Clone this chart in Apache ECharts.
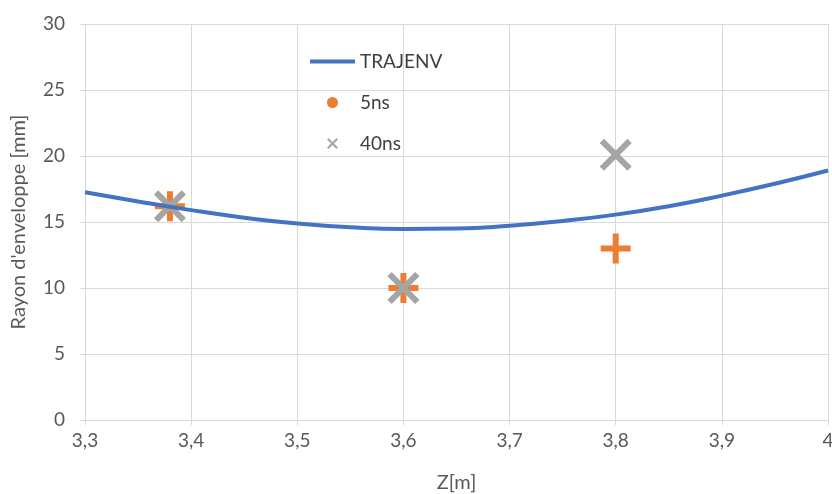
<!DOCTYPE html>
<html><head><meta charset="utf-8">
<script src="https://cdn.jsdelivr.net/npm/echarts@6/dist/echarts.min.js"></script>
<style>html,body{margin:0;padding:0;background:#fff}#c{width:832px;height:494px}</style>
</head><body><div id="c"></div>
<script>
const trajX = [3.30,3.35,3.40,3.45,3.50,3.55,3.60,3.65,3.70,3.75,3.80,3.85,3.90,3.95,4.00];
const trajY = [17.25,16.55,15.9,15.33,14.88,14.6,14.47,14.5,14.72,15.08,15.56,16.2,17.0,17.9,18.9];
const ptsX = [3.38,3.60,3.80];
const ns5Y = [16.2,10.0,13.0];
const ns40Y = [16.2,10.0,20.1];
const names = ['TRAJENV','5ns','40ns'];

const plusPath = 'path://M12,0 H18 V12 H30 V18 H18 V30 H12 V18 H0 V12 H12 Z';
const xPath = 'path://M0,4 L4,0 L15,11 L26,0 L30,4 L19,15 L30,26 L26,30 L15,19 L4,30 L0,26 L11,15 Z';
const linePath = 'path://M0,0 H45 V4 H0 Z';
const font = 'Lato, "Open Sans", sans-serif';
const grey = '#595959';

const chart = echarts.init(document.getElementById('c'));
chart.setOption({
  animation:false,
  grid:{left:85,right:4,top:24,bottom:74,outerBoundsMode:'none',containLabel:false},
  legend:{
    orient:'vertical', left:305, top:47, itemWidth:45, itemHeight:11, itemGap:22,
    textStyle:{color:'#404040',fontFamily:font,fontSize:19},
    data:[{name:names[0],icon:linePath},{name:names[1],icon:'circle'},{name:names[2],icon:xPath}]
  },
  xAxis:{type:'value',min:3.3,max:4.0,interval:0.1,
    name:'Z[m]',nameLocation:'middle',nameGap:53,
    nameTextStyle:{color:grey,fontFamily:font,fontSize:20},
    axisLine:{show:true,lineStyle:{color:'#d9d9d9',width:1}},
    axisTick:{show:true,length:5,lineStyle:{color:'#d9d9d9'}},
    axisLabel:{color:grey,fontFamily:font,fontSize:19,margin:11,
      formatter:v=>String(Math.round(v*10)/10).replace('.',',')},
    splitLine:{show:true,lineStyle:{color:'#d9d9d9'}}
  },
  yAxis:{type:'value',min:0,max:30,interval:5,
    name:"Rayon d'enveloppe [mm]",nameLocation:'middle',nameGap:56,
    nameTextStyle:{color:grey,fontFamily:font,fontSize:20},
    axisLine:{show:true,lineStyle:{color:'#d9d9d9',width:1}},
    axisTick:{show:true,length:5,lineStyle:{color:'#d9d9d9'}},
    axisLabel:{color:grey,fontFamily:font,fontSize:19,margin:20},
    splitLine:{show:true,lineStyle:{color:'#d9d9d9'}}
  },
  series:[
    {name:names[0],type:'line',smooth:true,symbol:'none',symbolKeepAspect:true,
     lineStyle:{color:'#4472C4',width:4},itemStyle:{color:'#4472C4'},
     data:trajX.map((x,i)=>[x,trajY[i]])},
    {name:names[1],type:'scatter',symbol:plusPath,symbolSize:30,symbolKeepAspect:true,
     itemStyle:{color:'#ED7D31',opacity:1},data:ptsX.map((x,i)=>[x,ns5Y[i]])},
    {name:names[2],type:'scatter',symbol:xPath,symbolSize:32,symbolKeepAspect:true,
     itemStyle:{color:'#A5A5A5',opacity:1},data:ptsX.map((x,i)=>[x,ns40Y[i]])}
  ]
});
</script></body></html>
